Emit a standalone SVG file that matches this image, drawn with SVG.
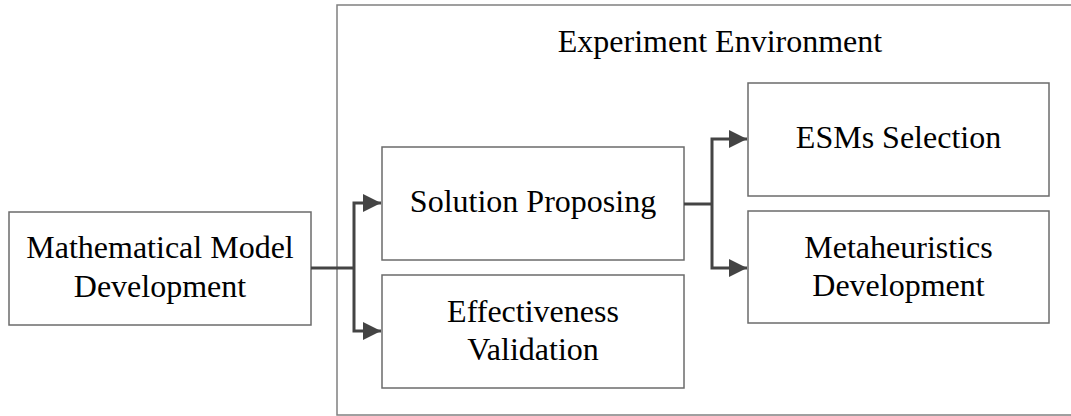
<svg xmlns="http://www.w3.org/2000/svg" width="1071" height="416" viewBox="0 0 1071 416">
<style>
.box{fill:#fff;stroke:#6b6b6b;stroke-width:1.5}
.cont{fill:none;stroke:#808080;stroke-width:1.5}
.t{font-family:"Liberation Serif","Times New Roman",serif;font-size:32px;fill:#000;text-anchor:middle}
.c{fill:none;stroke:#444;stroke-width:3}
</style>
<defs>
<marker id="ah" markerUnits="userSpaceOnUse" markerWidth="20" markerHeight="18" refX="18" refY="9" orient="auto">
<path d="M0,0 L18,9 L0,18 Z" fill="#444"/>
</marker>
</defs>
<g id="container">
<rect class="cont" x="337" y="5" width="780" height="410"/>
<text class="t" x="720" y="52">Experiment Environment</text>
</g>
<g id="mmd">
<rect class="box" x="9" y="212" width="302" height="113"/>
<text class="t" x="160" y="258">Mathematical Model</text>
<text class="t" x="160" y="297">Development</text>
</g>
<g id="sp">
<rect class="box" x="382" y="147" width="302" height="113"/>
<text class="t" x="533" y="212">Solution Proposing</text>
</g>
<g id="ev">
<rect class="box" x="382" y="275" width="302" height="113"/>
<text class="t" x="533" y="322">Effectiveness</text>
<text class="t" x="533" y="360">Validation</text>
</g>
<g id="esm">
<rect class="box" x="748" y="83" width="301" height="113"/>
<text class="t" x="898.5" y="148">ESMs Selection</text>
</g>
<g id="md">
<rect class="box" x="748" y="211" width="301" height="112"/>
<text class="t" x="898.5" y="258">Metaheuristics</text>
<text class="t" x="898.5" y="296">Development</text>
</g>
<g id="connectors">
<path class="c" d="M311,268 H354"/>
<path class="c" d="M354,268 V203 H381" marker-end="url(#ah)"/>
<path class="c" d="M354,268 V331 H381" marker-end="url(#ah)"/>
<path class="c" d="M684,204 H712"/>
<path class="c" d="M712,204 V139 H747" marker-end="url(#ah)"/>
<path class="c" d="M712,204 V268 H747" marker-end="url(#ah)"/>
</g>
</svg>
